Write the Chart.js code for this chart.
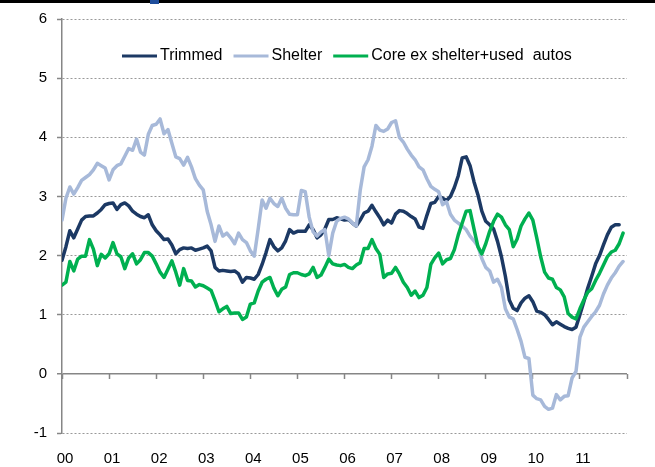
<!DOCTYPE html>
<html>
<head>
<meta charset="utf-8">
<script src="https://cdn.jsdelivr.net/npm/chart.js@4/dist/chart.umd.min.js"></script>
<style>
  body { margin: 0; background: #fff; }
</style>
</head>
<body>
<canvas id="myChart" width="655" height="467"></canvas>
<script>
// year tick labels (one per 12 months, starting Jan 2000)
const yearLabels = ["00", "01", "02", "03", "04", "05", "06", "07", "08", "09", "10", "11"];
const seriesNames = ["Trimmed", "Shelter", "Core ex shelter+used  autos"];
const seriesColors = ["#1c3964", "#a7b9d9", "#00b050"];

// monthly values, Jan 2000 onwards (y/y %)
const trimmed = [
  1.92, 2.15, 2.42, 2.30, 2.45, 2.60, 2.66, 2.67, 2.67, 2.72, 2.78, 2.86,
  2.88, 2.89, 2.78, 2.86, 2.89, 2.84, 2.75, 2.70, 2.66, 2.64, 2.69, 2.52,
  2.42, 2.35, 2.27, 2.28, 2.18, 2.03, 2.10, 2.13, 2.12, 2.13, 2.09, 2.11,
  2.13, 2.16, 2.08, 1.80, 1.74, 1.75, 1.74, 1.73, 1.74, 1.69, 1.55, 1.63,
  1.62, 1.60, 1.68, 1.85, 2.05, 2.27, 2.15, 2.08, 2.13, 2.25, 2.44, 2.38,
  2.41, 2.41, 2.41, 2.52, 2.44, 2.30, 2.35, 2.45, 2.61, 2.61, 2.64, 2.62,
  2.60, 2.61, 2.55, 2.50, 2.60, 2.72, 2.75, 2.85, 2.74, 2.64, 2.52, 2.60,
  2.55, 2.70, 2.76, 2.75, 2.71, 2.66, 2.62, 2.48, 2.46, 2.68, 2.88, 2.90,
  3.00, 2.97, 2.93, 3.00, 3.15, 3.35, 3.65, 3.67, 3.52, 3.25, 3.03, 2.75,
  2.58, 2.52, 2.45, 2.24, 1.98, 1.65, 1.25, 1.11, 1.07, 1.20, 1.28, 1.32,
  1.22, 1.06, 1.04, 1.00, 0.92, 0.83, 0.88, 0.84, 0.80, 0.77, 0.75, 0.79,
  1.00, 1.22, 1.45, 1.65, 1.86, 2.00, 2.18, 2.35, 2.48, 2.52, 2.52
];
const shelter = [
  2.60, 2.97, 3.16, 3.04, 3.15, 3.27, 3.32, 3.37, 3.45, 3.56, 3.52, 3.48,
  3.28, 3.45, 3.52, 3.55, 3.68, 3.81, 3.78, 3.97, 3.75, 3.70, 4.05, 4.20,
  4.22, 4.31, 4.06, 4.13, 3.90, 3.67, 3.64, 3.53, 3.66, 3.50, 3.30, 3.19,
  3.11, 2.75, 2.52, 2.24, 2.50, 2.33, 2.38, 2.30, 2.20, 2.38, 2.27, 2.22,
  2.08, 1.99, 2.45, 2.94, 2.80, 2.97, 2.88, 2.83, 2.97, 2.80, 2.70, 2.69,
  2.69, 3.10, 3.08, 2.65, 2.40, 2.33, 2.40, 2.44, 2.00, 2.38, 2.58, 2.63,
  2.65, 2.62, 2.55, 2.50, 3.10, 3.50, 3.62, 3.85, 4.20, 4.12, 4.10, 4.14,
  4.25, 4.28, 4.00, 3.92, 3.80, 3.70, 3.62, 3.50, 3.45, 3.30, 3.17, 3.12,
  3.08, 2.86, 2.91, 2.70, 2.60, 2.55, 2.50, 2.44, 2.33, 2.25, 2.16, 1.95,
  1.80, 1.74, 1.55, 1.60, 1.46, 1.10, 0.96, 0.93, 0.75, 0.55, 0.28, 0.26,
  -0.36, -0.42, -0.44, -0.55, -0.60, -0.58, -0.35, -0.44, -0.38, -0.37, -0.07, 0.04,
  0.62, 0.79, 0.88, 0.97, 1.05, 1.16, 1.35, 1.50, 1.62, 1.71, 1.82, 1.90
];
const coreExShelter = [
  1.50, 1.55, 1.90, 1.74, 1.94, 1.99, 1.99, 2.27, 2.11, 1.83, 2.02, 1.96,
  2.03, 2.22, 2.03, 1.98, 1.78, 1.96, 2.03, 1.86, 1.93, 2.05, 2.05, 1.99,
  1.86, 1.72, 1.63, 1.77, 1.91, 1.72, 1.50, 1.78, 1.58, 1.57, 1.47, 1.51,
  1.49, 1.45, 1.41, 1.24, 1.05, 1.10, 1.14, 1.02, 1.03, 1.03, 0.92, 0.96,
  1.18, 1.20, 1.40, 1.55, 1.60, 1.63, 1.45, 1.32, 1.43, 1.47, 1.68, 1.71,
  1.71, 1.68, 1.66, 1.69, 1.80, 1.63, 1.67, 1.80, 1.94, 1.86, 1.84, 1.83,
  1.85, 1.80, 1.78, 1.84, 1.88, 2.12, 2.12, 2.27, 2.12, 2.02, 1.63, 1.69,
  1.70, 1.80, 1.69, 1.55, 1.46, 1.33, 1.40, 1.29, 1.33, 1.46, 1.85, 1.96,
  2.04, 1.86, 1.93, 1.95, 2.10, 2.35, 2.55, 2.75, 2.76, 2.45, 2.15, 2.03,
  2.20, 2.41, 2.58, 2.70, 2.65, 2.52, 2.44, 2.15, 2.28, 2.50, 2.62, 2.72,
  2.60, 2.30, 1.98, 1.72, 1.62, 1.60, 1.46, 1.42, 1.30, 1.02, 0.96, 0.93,
  1.10, 1.25, 1.38, 1.44, 1.58, 1.70, 1.84, 1.98, 2.06, 2.09, 2.20, 2.38
];

// month index for each point (0 = Jan 2000)
const months = shelter.map((v, i) => i);

const font = { family: "'Liberation Sans', Arial, sans-serif", size: 15 };
const axisGrey = "#868686";

// top rule + legend drawn inside the plot like the original
const decor = {
  id: "decor",
  afterDraw(chart) {
    const ctx = chart.ctx;
    ctx.save();
    ctx.fillStyle = "#000";
    ctx.fillRect(0, 0, 655, 3);
    ctx.fillStyle = "#1f4e9c";
    ctx.fillRect(150, 0, 9, 4);

    ctx.font = "16px 'Liberation Sans', Arial, sans-serif";
    ctx.textBaseline = "middle";
    let x = 122;
    const y = 56;
    chart.data.datasets.forEach((ds) => {
      ctx.strokeStyle = ds.borderColor;
      ctx.lineWidth = 3;
      ctx.beginPath();
      ctx.moveTo(x, y);
      ctx.lineTo(x + 35, y);
      ctx.stroke();
      x += 38;
      ctx.fillStyle = "#000";
      ctx.fillText(ds.label, x, y);
      x += ctx.measureText(ds.label).width + 11;
    });
    ctx.restore();
  },
};

const ctx = document.getElementById("myChart").getContext("2d");
const myChart = new Chart(ctx, {
  type: "line",
  data: {
    labels: months,
    datasets: [
      { label: seriesNames[0], data: trimmed, borderColor: seriesColors[0], order: 2 },
      { label: seriesNames[1], data: shelter, borderColor: seriesColors[1], order: 1 },
      { label: seriesNames[2], data: coreExShelter, borderColor: seriesColors[2], order: 0 },
    ],
  },
  options: {
    responsive: false,
    animation: false,
    layout: { padding: { top: 16, right: 28, bottom: 0, left: 0 } },
    elements: {
      point: { radius: 0 },
      line: { borderWidth: 3.5, tension: 0, borderJoinStyle: "round", borderCapStyle: "round", fill: false },
    },
    plugins: {
      legend: { display: false },
      tooltip: { enabled: false },
    },
    scales: {
      x: {
        type: "linear",
        min: 0,
        max: 144,
        grid: { display: false },
        border: { display: false },
        ticks: {
          stepSize: 12,
          autoSkip: false,
          maxRotation: 0,
          padding: 9,
          labelOffset: 3,
          color: "#000",
          font: font,
          callback: (v) => yearLabels[v / 12] ?? "",
        },
        afterFit: (scale) => { scale.height = 34; },
      },
      x0: {
        type: "linear",
        axis: "x",
        position: { y: 0 },
        min: 0,
        max: 144,
        ticks: { display: false, stepSize: 12 },
        grid: { drawOnChartArea: false, tickLength: 5, tickColor: axisGrey, tickWidth: 1.5 },
        border: { display: false },
      },
      y: {
        min: -1,
        max: 6,
        ticks: { stepSize: 1, padding: 10, color: "#000", font: font },
        grid: {
          color: (c) => (c.tick && c.tick.value === 0 ? axisGrey : "#999"),
          lineWidth: (c) => (c.tick && c.tick.value === 0 ? 1.5 : 1),
          tickLength: 5,
          tickColor: axisGrey,
          tickWidth: 1.5,
        },
        border: {
          color: axisGrey,
          width: 1.5,
          dash: (c) => (c.type === "tick" && c.tick.value !== 0 ? [2, 2] : []),
        },
        afterFit: (scale) => { scale.width = 62; },
      },
    },
  },
  plugins: [decor],
});
</script>
</body>
</html>
